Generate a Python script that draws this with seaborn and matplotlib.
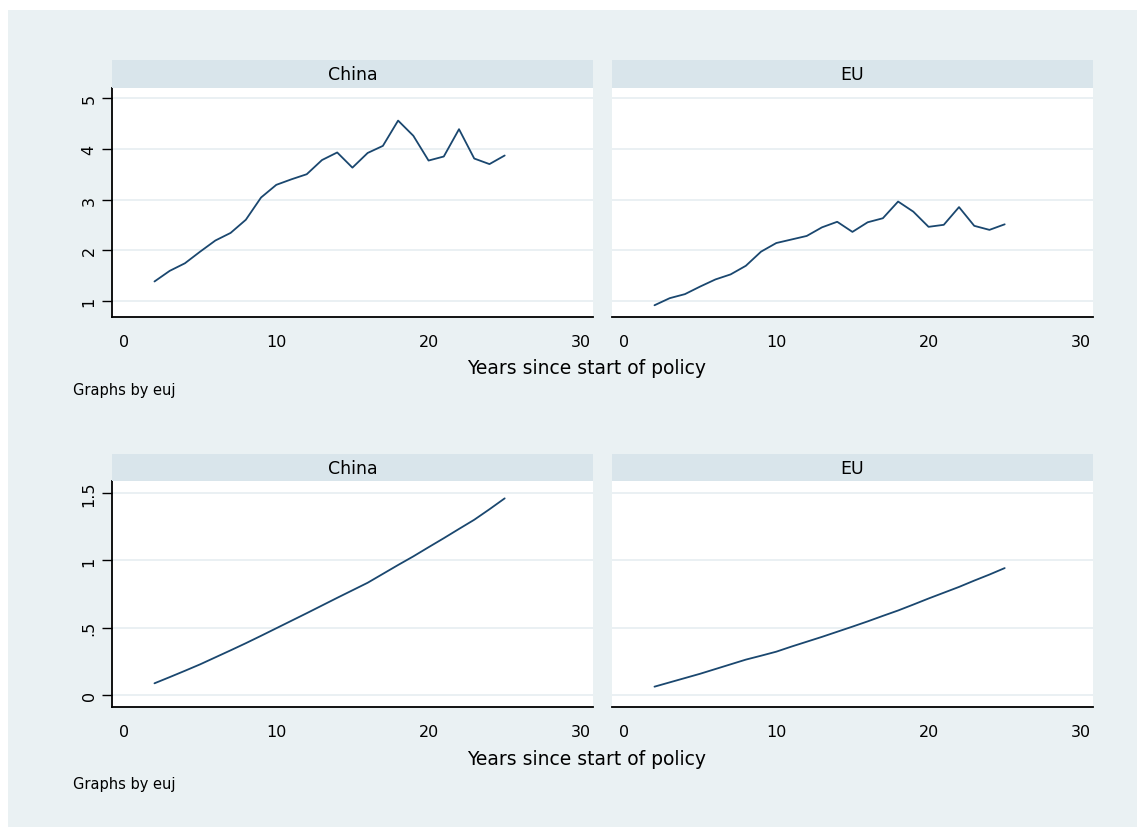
import matplotlib
matplotlib.use("Agg")
import matplotlib.pyplot as plt
import pandas as pd
import seaborn as sns

# ---- data -------------------------------------------------------------
years = list(range(2, 26))
regions = ["China", "EU"]

china_top = [1.38, 1.59, 1.74, 1.97, 2.19, 2.34, 2.60, 3.04, 3.29, 3.40,
             3.50, 3.78, 3.93, 3.63, 3.92, 4.06, 4.56, 4.26, 3.77, 3.85,
             4.39, 3.81, 3.70, 3.87]
eu_top = [0.91, 1.05, 1.13, 1.28, 1.42, 1.52, 1.69, 1.97, 2.14, 2.21,
          2.28, 2.45, 2.56, 2.36, 2.55, 2.63, 2.96, 2.76, 2.46, 2.50,
          2.85, 2.48, 2.40, 2.51]
china_bottom = [0.087, 0.133, 0.180, 0.228, 0.280, 0.332, 0.385, 0.440,
                0.496, 0.552, 0.608, 0.665, 0.722, 0.778, 0.834, 0.900,
                0.966, 1.030, 1.098, 1.165, 1.234, 1.302, 1.380, 1.461]
eu_bottom = [0.062, 0.094, 0.126, 0.158, 0.193, 0.228, 0.263, 0.292,
             0.322, 0.360, 0.396, 0.432, 0.470, 0.508, 0.547, 0.588,
             0.628, 0.672, 0.717, 0.760, 0.803, 0.850, 0.895, 0.943]

x_ticks = [0, 10, 20, 30]
top_yticks = [1, 2, 3, 4, 5]
top_ylabels = ["1", "2", "3", "4", "5"]
bottom_yticks = [0, 0.5, 1, 1.5]
bottom_ylabels = ["0", ".5", "1", "1.5"]
x_title = "Years since start of policy"
note = "Graphs by euj"

# ---- style ------------------------------------------------------------
sns.set_theme(style="white")
plt.rcParams["font.family"] = ["DejaVu Sans"]

BG = "#eaf1f3"
STRIP = "#d9e5eb"
GRID = "#e6eef1"
NAVY = "#1a476f"

W, H = 1137, 828
fig = plt.figure(figsize=(W / 100, H / 100), dpi=100)
fig.patch.set_facecolor("white")
bg = fig.add_axes([8 / W, 0, 1 - 8 / W, 1 - 11 / H])
bg.set_facecolor(BG)
bg.set_xticks([])
bg.set_yticks([])
for s in bg.spines.values():
    s.set_visible(False)


def px_box(x0, x1, y0, y1):
    """Figure-fraction rectangle from pixel edges (y measured from top)."""
    return [x0 / W, 1 - y1 / H, (x1 - x0) / W, (y1 - y0) / H]


def panel(ax, df, ylim, yticks, ylabels, show_y):
    sns.lineplot(data=df, x="year", y="value", ax=ax, color=NAVY,
                 linewidth=1.3, estimator=None, legend=False)
    ax.set_facecolor("white")
    ax.set_xlim(-0.79, 30.8)
    ax.set_ylim(*ylim)
    ax.set_xticks(x_ticks)
    ax.set_xticklabels([str(t) for t in x_ticks], fontsize=11.5)
    ax.set_yticks(yticks)
    for yv in yticks:
        ax.axhline(yv, color=GRID, linewidth=1.2, zorder=0)
    ax.set_xlabel("")
    ax.set_ylabel("")
    for side in ("top", "right"):
        ax.spines[side].set_visible(False)
    ax.spines["bottom"].set_color("black")
    ax.spines["bottom"].set_linewidth(1.3)
    ax.tick_params(axis="x", direction="out", length=7, width=1,
                   color="black", pad=5, labelcolor="black")
    if show_y:
        ax.spines["left"].set_color("black")
        ax.spines["left"].set_linewidth(1.3)
        ax.set_yticklabels(ylabels, fontsize=11.5, rotation=90, va="center")
        ax.tick_params(axis="y", direction="out", length=7, width=1,
                       color="black", pad=4, left=True, labelcolor="black")
    else:
        ax.spines["left"].set_visible(False)
        ax.tick_params(axis="y", left=False, labelleft=False)


def strip(box, title):
    sa = fig.add_axes(box)
    sa.set_facecolor(STRIP)
    sa.set_xticks([])
    sa.set_yticks([])
    for s in sa.spines.values():
        s.set_visible(False)
    sa.text(0.5, 0.5, title, ha="center", va="center", fontsize=12.5,
            color="black", transform=sa.transAxes)


rows = [
    dict(series=[china_top, eu_top], plot_y=(89, 318), strip_y=(61, 89),
         ylim=(0.678, 5.204), yticks=top_yticks, ylabels=top_ylabels,
         title_y=369, note_y=391),
    dict(series=[china_bottom, eu_bottom], plot_y=(482, 708),
         strip_y=(455, 482), ylim=(-0.089, 1.590), yticks=bottom_yticks,
         ylabels=bottom_ylabels, title_y=760, note_y=785),
]
cols = [(112, 593), (612, 1093)]

for row in rows:
    for j, (region, values) in enumerate(zip(regions, row["series"])):
        x0, x1 = cols[j]
        df = pd.DataFrame({"year": years, "value": values, "region": region})
        ax = fig.add_axes(px_box(x0, x1, *row["plot_y"]))
        panel(ax, df, row["ylim"], row["yticks"], row["ylabels"], j == 0)
        strip(px_box(x0, x1, *row["strip_y"]), region)
    fig.text(586.7 / W, 1 - row["title_y"] / H, x_title, ha="center",
             va="center", fontsize=13.5, color="black")
    fig.text(73 / W, 1 - row["note_y"] / H, note, ha="left", va="center",
             fontsize=10.5, color="black")

fig.savefig("out.png", dpi=100, facecolor=fig.get_facecolor())
